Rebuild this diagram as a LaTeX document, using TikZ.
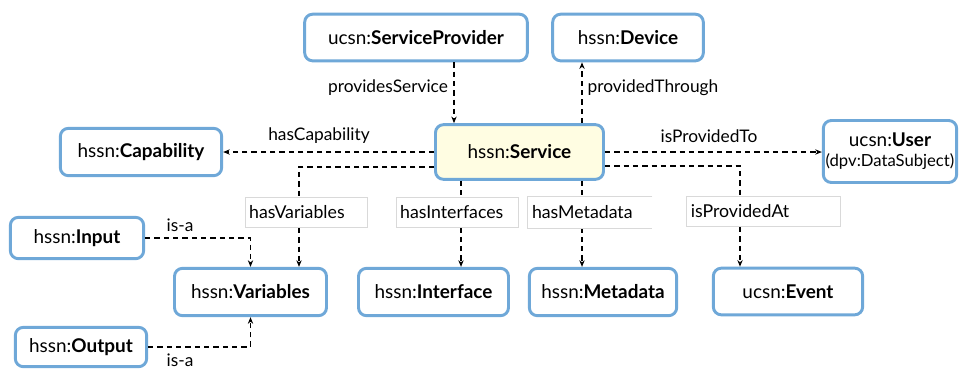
\documentclass[tikz,border=0pt]{standalone}
\usepackage{fontspec}
\setmainfont{Lato}
\usetikzlibrary{calc,arrows.meta}
\definecolor{boxblue}{HTML}{6FA8D8}
\definecolor{svcfill}{HTML}{FFFDE2}
\definecolor{lblgray}{HTML}{D9D9D9}
\tikzset{
  cls/.style={draw=boxblue, line width=2.2pt, rounded corners=6pt, fill=white,
    inner sep=0pt, font=\fontsize{14.2}{16}\selectfont, align=center},
  rel/.style={draw=black, line width=0.9pt, dash pattern=on 4pt off 3pt,
    -{Stealth[length=5pt,width=4pt]}},
  lbl/.style={font=\fontsize{13}{15}\selectfont, inner sep=0pt},
  tag/.style={fill=white, draw=lblgray, line width=0.6pt, inner sep=0pt,
    minimum height=23pt, font=\fontsize{13.3}{15}\selectfont, align=left},
}
\begin{document}
\begin{tikzpicture}[x=0.75pt,y=-0.75pt]
\useasboundingbox (0,0) rectangle (961,369);

% classes
\node[cls, minimum width=167pt, minimum height=35pt] (sp)   at (416,37.5)  {ucsn:\textbf{ServiceProvider}};
\node[cls, minimum width=113pt, minimum height=35pt] (dev)  at (628,37.5)  {hssn:\textbf{Device}};
\node[cls, fill=svcfill, minimum width=126pt, minimum height=41pt] (svc) at (519.5,152) {hssn:\textbf{Service}};
\node[cls, minimum width=121pt, minimum height=35.5pt] (cap) at (141,152) {hssn:\textbf{Capability}};
\node[cls, minimum width=100pt, minimum height=46.5pt] (usr) at (890,151.5) {ucsn:\textbf{User}\\[-1pt]{\fontsize{12.5}{14}\selectfont (dpv:DataSubject)}};
\node[cls, minimum width=100pt, minimum height=31pt] (inp)  at (77,238)   {hssn:\textbf{Input}};
\node[cls, minimum width=98.5pt, minimum height=29.5pt] (out) at (81,347) {hssn:\textbf{Output}};
\node[cls, minimum width=114pt, minimum height=35.5pt] (var) at (250.5,292) {hssn:\textbf{Variables}};
\node[cls, minimum width=112.5pt, minimum height=35.5pt] (intf) at (433.5,292) {hssn:\textbf{Interface}};
\node[cls, minimum width=110.5pt, minimum height=35.5pt] (meta) at (603,292) {hssn:\textbf{Metadata}};
\node[cls, minimum width=112pt, minimum height=35pt] (evt) at (788,291.5) {ucsn:\textbf{Event}};

% relations
\draw[rel] ($(sp.south)+(38,0)$) -- ($(svc.north)+(-65.5,0)$);
\draw[rel] ($(svc.north)+(62.5,0)$) -- ($(dev.south)+(-46,0)$);
\draw[rel] (svc.west) -- (cap.east);
\draw[rel] (svc.east) -- (svc.east -| usr.west);
\draw[rel] ($(svc.west)+(0,15)$) -| ($(var.north)+(48.5,0)$);
\draw[rel] (inp.east) -| (var.north);
\draw[rel] (out.east) -| (var.south);
\draw[rel] ($(svc.south)+(-58.5,0)$) -- ($(intf.north)+(27.5,0)$);
\draw[rel] ($(svc.south)+(62.5,0)$) -- ($(meta.north)+(-21,0)$);
\draw[rel] ($(svc.east)+(0,14)$) -| ($(evt.north)+(-48,0)$);

% relation names in boxes
\node[tag, minimum width=92pt, text width=86pt] (tvar) at (306.5,212.5) {hasVariables};
\node[tag, minimum width=91pt, text width=86pt] (tint) at (457.5,212.5) {hasInterfaces};
\node[tag, draw=none, minimum width=93pt, text width=87pt] (tmeta) at (590,212.5) {hasMetadata};
\draw[lblgray, line width=0.6pt] (tmeta.north east) -- (tmeta.north west) -- (tmeta.south west) -- (tmeta.south east);
\node[tag, minimum width=115pt, text width=109pt] (tat) at (763.5,211.5) {isProvidedAt};

% free relation names
\node[lbl] (lps)  at (388,88)  {providesService};
\node[lbl] (lpt)  at (653,88)  {providedThrough};
\node[lbl] (lcap) at (319,136) {hasCapability};
\node[lbl] (lto)  at (709,136) {isProvidedTo};
\node[lbl] (lisa1) at (180,225) {is-a};
\node[lbl] (lisa2) at (180,360) {is-a};
\end{tikzpicture}
\end{document}
